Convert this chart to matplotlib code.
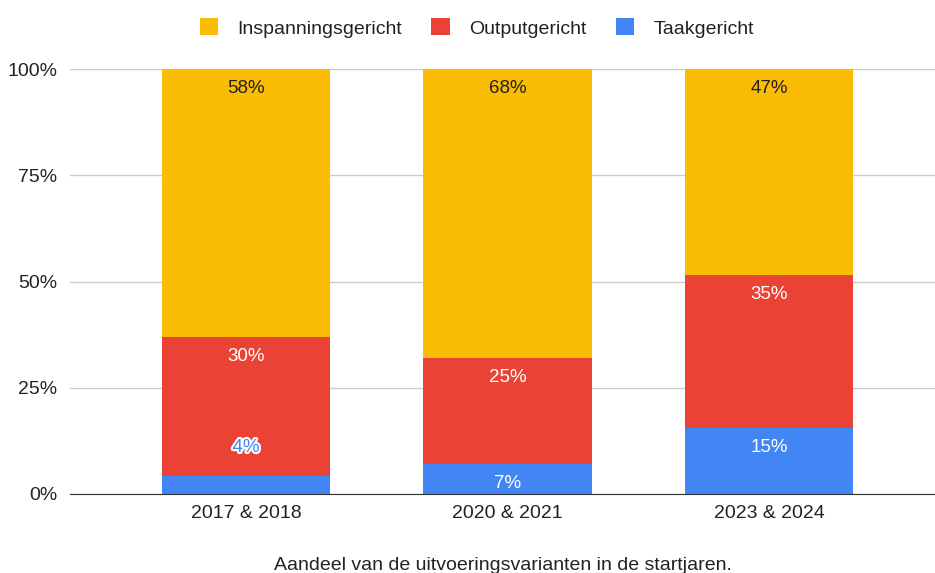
import matplotlib
matplotlib.use("Agg")
import matplotlib.pyplot as plt
import matplotlib.patheffects as pe
from matplotlib.patches import Patch
import numpy as np

plt.rcParams['font.family'] = ['Liberation Sans', 'DejaVu Sans']

categories = ["2017 & 2018", "2020 & 2021", "2023 & 2024"]
taak = [4, 7, 15]
output = [30, 25, 35]
inspanning = [58, 68, 47]

C_YEL = "#FBBC04"
C_RED = "#EA4335"
C_BLUE = "#4285F4"

fig = plt.figure(figsize=(9.35, 5.73), dpi=100)
ax = fig.add_axes([70 / 935, 1 - 494 / 573, 1 - 70 / 935, (494 - 69) / 573])

x = np.arange(len(categories))
tot = np.array(taak) + np.array(output) + np.array(inspanning)
t = np.array(taak) / tot * 100
o = np.array(output) / tot * 100
i = np.array(inspanning) / tot * 100
w = 0.646

ax.bar(x, t, w, color=C_BLUE, zorder=2)
ax.bar(x, o, w, bottom=t, color=C_RED, zorder=2)
ax.bar(x, i, w, bottom=t + o, color=C_YEL, zorder=2)

off = 4.5
fs = 13.5
for k in range(len(x)):
    ax.text(x[k], 100 - off, f"{inspanning[k]}%", ha="center", va="center", fontsize=fs, color="#222222", zorder=3)
    ax.text(x[k], t[k] + o[k] - off, f"{output[k]}%", ha="center", va="center", fontsize=fs, color="white", zorder=3)
    if t[k] > 6:
        ax.text(x[k], t[k] - off, f"{taak[k]}%", ha="center", va="center", fontsize=fs, color="white", zorder=3)
    else:
        ax.text(x[k], t[k] + 6.6, f"{taak[k]}%", ha="center", va="center", fontsize=fs, color=C_BLUE, zorder=3,
                path_effects=[pe.withStroke(linewidth=3, foreground="white")])

ax.set_xlim(-176 / 261.5, 2 + 166 / 261.5)
ax.set_ylim(0, 100)
ax.set_yticks([0, 25, 50, 75, 100])
ax.set_yticklabels(["0%", "25%", "50%", "75%", "100%"])
ax.set_xticks(x)
ax.set_xticklabels(categories)
ax.tick_params(axis="both", length=0, labelsize=14, colors="#222222")
ax.tick_params(axis="y", pad=9)
ax.tick_params(axis="x", pad=8)
ax.grid(axis="y", color="#cccccc", linewidth=1, zorder=0)
for s in ["top", "right", "left"]:
    ax.spines[s].set_visible(False)
ax.spines["bottom"].set_color("#333333")
ax.spines["bottom"].set_zorder(4)
ax.set_xlabel("Aandeel van de uitvoeringsvarianten in de startjaren.", fontsize=14, color="#222222", labelpad=25)

handles = [Patch(facecolor=C_YEL, label="Inspanningsgericht"),
           Patch(facecolor=C_RED, label="Outputgericht"),
           Patch(facecolor=C_BLUE, label="Taakgericht")]
fig.legend(handles=handles, loc="center", bbox_to_anchor=(477 / 935, 1 - 28 / 573), ncol=3, frameon=False,
           fontsize=14, handlelength=0.95, handleheight=0.95, columnspacing=1.5, handletextpad=1.0,
           labelcolor="#222222")

fig.savefig("out.png", dpi=100, facecolor="white")
